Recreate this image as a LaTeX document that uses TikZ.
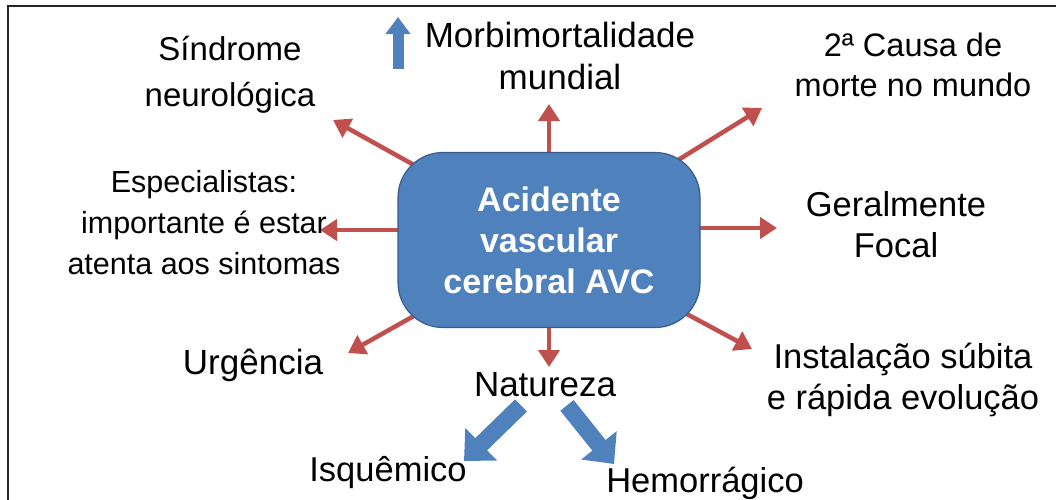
\documentclass[tikz,border=0pt]{standalone}
\usepackage{fontspec}
\setmainfont{Liberation Sans}
\usetikzlibrary{arrows.meta,backgrounds}
\definecolor{avcblue}{HTML}{4F81BD}
\definecolor{avcedge}{HTML}{385D8A}
\definecolor{avcred}{HTML}{C0504D}

\begin{document}
\begin{tikzpicture}[x=1pt,y=-1pt,
    txt/.style={align=center,inner sep=0pt,font=\fontsize{34.5}{41}\selectfont},
    redarrow/.style={avcred,line width=4.5pt,-{Triangle[width=21pt,length=17pt]}},
    blockarrow/.style={avcblue,line width=17pt,-{Triangle[width=44pt,length=24pt]}},
    uparrow/.style={avcblue,line width=11pt,-{Triangle[width=24pt,length=17pt]}}]
    \useasboundingbox (0,0) rectangle (1056,499);

    % frame
    \draw[line width=2.5pt,black!85] (8,520) -- (8,6) -- (1080,6);

    % centre
    \node[draw=avcedge,line width=1.2pt,fill=avcblue,rounded corners=45pt,
      minimum width=302pt,minimum height=175pt,align=center,text=white,
      font=\fontsize{34}{41}\selectfont\bfseries] (avc) at (549,240) {
      Acidente\\vascular\\cerebral AVC
    };

    % labels around
    \node[txt,font=\fontsize{33}{46}\selectfont] (sind) at (230,75) {Síndrome\\neurológica};
    \node[txt,font=\fontsize{35}{42}\selectfont] (morb) at (560,56) {Morbimortalidade\\mundial};
    \node[txt,font=\fontsize{32.5}{40}\selectfont] (causa) at (913,65) {2ª Causa de\\morte no mundo};
    \node[txt,font=\fontsize{30.5}{41}\selectfont] (espec) at (204,223) {Especialistas:\\importante é estar\\atenta aos sintomas};
    \node[txt] (geral) at (896,225) {Geralmente\\Focal};
    \node[txt,font=\fontsize{35}{41}\selectfont] (urg) at (253,365) {Urgência};
    \node[txt,font=\fontsize{35}{41}\selectfont] (nat) at (545,385) {Natureza};
    \node[txt] (inst) at (903,380) {Instalação súbita\\e rápida evolução};
    \node[txt] (isq) at (388,473) {Isquêmico};
    \node[txt] (hem) at (705,483) {Hemorrágico};

    % arrow tips
    \coordinate (tipN) at (549,104);
    \coordinate (tipNW) at (333,120);
    \coordinate (tipNE) at (762,108);
    \coordinate (tipW) at (320,230);
    \coordinate (tipE) at (777,228);
    \coordinate (tipSW) at (348,353);
    \coordinate (tipSE) at (752,349);
    \coordinate (tipS) at (549,367);
    \coordinate (isqtip) at (464,461);
    \coordinate (hemtip) at (614,464);
    \coordinate (upfoot) at (398,69);
    \coordinate (uphead) at (398,17);

    \begin{scope}[on background layer]
      \foreach \t in {tipNW,tipNE,tipSW,tipSE}
        \draw[redarrow] (avc.center) -- (\t);
      \foreach \t in {tipW,tipE}
        \draw[redarrow] (avc.center |- \t) -- (\t);
      \foreach \t in {tipN,tipS}
        \draw[redarrow] (avc.center -| \t) -- (\t);
    \end{scope}

    \draw[blockarrow] ([xshift=-24pt,yshift=-8pt]nat.south) -- (isqtip);
    \draw[blockarrow] ([xshift=22pt,yshift=-8pt]nat.south) -- (hemtip);
    \draw[uparrow] (upfoot) -- (uphead);
  \end{tikzpicture}
\end{document}
